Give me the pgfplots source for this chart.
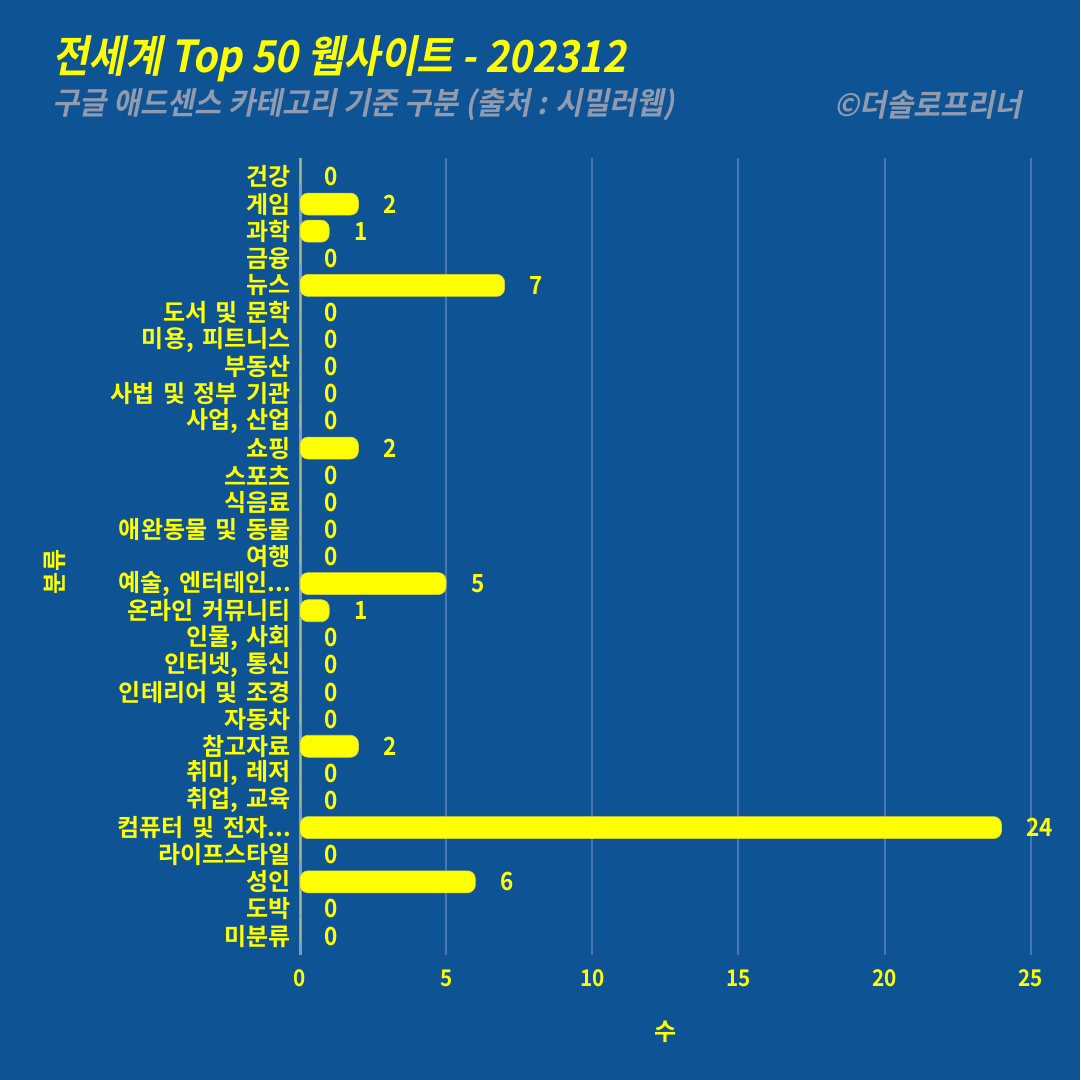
\documentclass[border=0pt]{standalone}
\usepackage{pgfplots}
\pgfplotsset{compat=1.18}
\usepackage{fontspec}
\setmainfont{Noto Sans CJK KR}[BoldFont={* Bold}]
\newfontfamily\kr{Noto Sans CJK KR}[BoldFont={* Bold},WordSpace=1.6]
\newfontfamily\krc{Noto Sans CJK KR}[BoldFont={* Bold},FakeStretch=0.9]
\newfontfamily\krit{Noto Sans CJK KR}[BoldFont={* Bold},FakeSlant=0.2,FakeStretch=0.9]
\newfontfamily\kris{Noto Sans CJK KR}[BoldFont={* Bold},FakeSlant=0.2,FakeStretch=0.95]
\definecolor{bg}{RGB}{14,83,148}
\definecolor{yel}{RGB}{255,255,0}
\definecolor{subg}{RGB}{145,155,175}
\definecolor{gridc}{RGB}{72,118,176}
\definecolor{axc}{RGB}{125,155,195}
\definecolor{barline}{RGB}{215,210,60}
\newcommand{\dd}{.\kern0pt.\kern0pt.}
\begin{document}
\begin{tikzpicture}
\fill[bg] (-150pt,-62.5pt) rectangle (390pt,477.5pt);
\node[anchor=west,inner sep=0pt,text=yel,font=\krit\bfseries\fontsize{22}{26}\selectfont] at (-124pt,448pt) {전세계 Top 50 웹사이트 - 202312};
\node[anchor=west,inner sep=0pt,text=subg,font=\kris\bfseries\fontsize{15.5}{18}\selectfont] at (-124pt,425pt) {구글 애드센스 카테고리 기준 구분 (출처 : 시밀러웹)};
\node[anchor=east,inner sep=0pt,text=subg,font=\kris\bfseries\fontsize{15.5}{18}\selectfont] at (361pt,425pt) {©더솔로프리너};
\begin{axis}[
  xbar, scale only axis, width=380pt, height=398.5pt,
  xmin=0, xmax=26, ymin=-0.7, ymax=28.7, y dir=reverse,
  bar width=11pt,
  axis x line*=bottom, axis y line*=left,
  x axis line style={draw=none},
  y axis line style={draw=axc,line width=1.5pt},
  xtick={0,5,10,15,20,25},
  ytick={0,1,2,3,4,5,6,7,8,9,10,11,12,13,14,15,16,17,18,19,20,21,22,23,24,25,26,27,28},
  yticklabels={건강,게임,과학,금융,뉴스,도서 및 문학,{미용, 피트니스},부동산,사법 및 정부 기관,{사업, 산업},쇼핑,스포츠,식음료,애완동물 및 동물,여행,{예술, 엔터테인\dd},온라인 커뮤니티,{인물, 사회},{인터넷, 통신},인테리어 및 조경,자동차,참고자료,{취미, 레저},{취업, 교육},{컴퓨터 및 전자\dd},라이프스타일,성인,도박,미분류},
  major tick length=0pt,
  xmajorgrids, grid style={draw=gridc,line width=1pt},
  /pgf/number format/assume math mode=true,
  xticklabel style={text=yel,font=\krc\bfseries\fontsize{11.5}{13}\selectfont,yshift=-4pt},
  yticklabel style={text=yel,font=\kr\bfseries\fontsize{12}{14}\selectfont,xshift=-1pt},
  nodes near coords,
  every node near coord/.style={anchor=west,xshift=9pt,text=yel,font=\krc\bfseries\fontsize{12.5}{14}\selectfont},
]
\addplot[fill=yel,draw=barline,line width=0.3pt,rounded corners=4pt] coordinates {
(0,0) (2,1) (1,2) (0,3) (7,4) (0,5) (0,6) (0,7) (0,8) (0,9)
(2,10) (0,11) (0,12) (0,13) (0,14) (5,15) (1,16) (0,17) (0,18) (0,19)
(0,20) (2,21) (0,22) (0,23) (24,24) (0,25) (6,26) (0,27) (0,28)};
\end{axis}
\node[rotate=90,text=yel,font=\kr\bfseries\fontsize{12}{14}\selectfont] at (-122.5pt,191.5pt) {분류};
\node[text=yel,font=\kr\bfseries\fontsize{12}{14}\selectfont] at (183pt,-38.5pt) {수};
\end{tikzpicture}
\end{document}
